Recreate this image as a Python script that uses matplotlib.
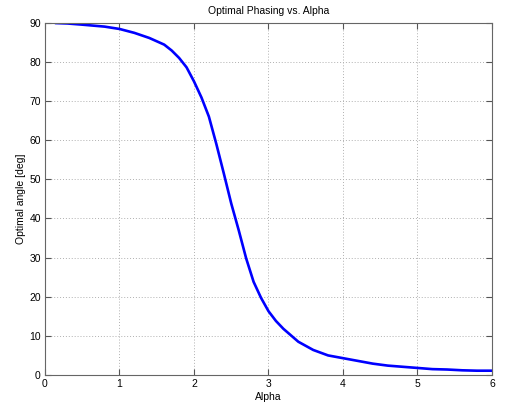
import matplotlib
matplotlib.use("Agg")
import matplotlib.pyplot as plt

alpha = [0.15, 0.3, 0.5, 0.8, 1.0, 1.2, 1.4, 1.6, 1.7, 1.8, 1.9, 2.0, 2.1, 2.2, 2.3,
         2.4, 2.5, 2.6, 2.7, 2.8, 2.9, 3.0, 3.1, 3.2, 3.4, 3.6, 3.8, 4.0, 4.2, 4.4,
         4.6, 4.8, 5.0, 5.2, 5.4, 5.6, 5.8, 6.0]
angle = [89.9, 89.8, 89.5, 89.0, 88.4, 87.4, 86.1, 84.4, 82.9, 81.0, 78.6, 75.0, 70.9,
         66.0, 59.0, 51.5, 43.8, 37.0, 29.8, 23.8, 19.7, 16.3, 13.8, 11.8, 8.5, 6.4,
         5.0, 4.3, 3.6, 2.9, 2.4, 2.1, 1.8, 1.5, 1.4, 1.2, 1.1, 1.1]
xticks = [0, 1, 2, 3, 4, 5, 6]
yticks = [0, 10, 20, 30, 40, 50, 60, 70, 80, 90]

plt.rcParams['font.family'] = ['Liberation Sans', 'DejaVu Sans']
fig = plt.figure(figsize=(5.1, 4.08), dpi=100)
ax = fig.add_axes([45/510, 33/408, 447/510, 352.3/408])
ax.plot(alpha, angle, color='#0000ff', lw=1.9)
ax.set_xlim(0, 6)
ax.set_ylim(0, 90)
ax.set_xticks(xticks)
ax.set_yticks(yticks)
ax.grid(True, linestyle=(0, (1, 2)), color='#b0b0b0', lw=0.7)
ax.tick_params(direction='in', top=True, right=True, labelsize=7.5, length=4,
               color='#555555', pad=3)
for s in ax.spines.values():
    s.set_color('#666666')
    s.set_linewidth(0.8)
ax.set_title('Optimal Phasing vs. Alpha', fontsize=7.5, pad=6)
ax.set_xlabel('Alpha', fontsize=7.5, labelpad=2)
ax.set_ylabel('Optimal angle [deg]', fontsize=7.5, labelpad=2)
fig.savefig('out.png', dpi=100)
